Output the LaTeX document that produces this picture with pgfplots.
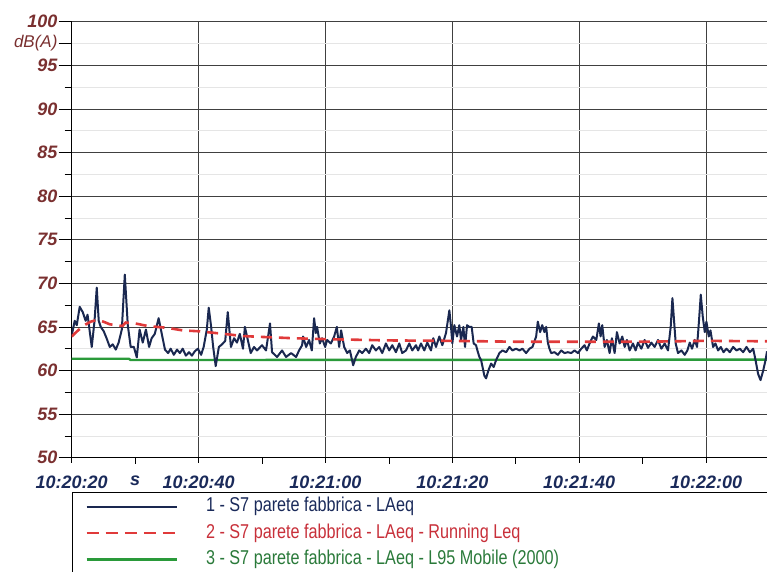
\documentclass[border=0pt]{standalone}
\usepackage{pgfplots}
\pgfplotsset{compat=1.18}
\usepackage{fontspec}
\setmainfont{Liberation Sans}
\newfontfamily\narrowfont[FakeStretch=0.81]{Liberation Sans}
\definecolor{navy}{HTML}{1A2850}
\definecolor{lred}{HTML}{E03A3A}
\definecolor{lgreen}{HTML}{2A9A3A}
\definecolor{ylab}{HTML}{7A3030}
\definecolor{xlab}{HTML}{1A2A5A}
\definecolor{redtxt}{HTML}{C8303A}
\definecolor{greentxt}{HTML}{2A7A3A}
\begin{document}
\begin{tikzpicture}
\begin{axis}[
  at={(0,0)}, anchor=south west,
  scale only axis, width=695.3pt, height=436pt,
  xmin=0, xmax=109.6, ymin=50, ymax=100,
  axis x line*=bottom, axis y line*=left,
  axis line style={black, line width=0.9pt},
  xtick={0,20,40,60,80,100},
  xticklabels={10:20:20,10:20:40,10:21:00,10:21:20,10:21:40,10:22:00},
  minor xtick={10,30,50,70,90},
  ytick={50,55,...,100},
  minor ytick={52.5,57.5,...,97.5},
  tick align=outside,
  major tick length=13pt, minor tick length=7pt,
  x tick style={/pgfplots/major tick length=5pt, /pgfplots/minor tick length=6pt, black, line width=0.8pt},
  y tick style={black, line width=0.8pt},
  xmajorgrids, ymajorgrids, yminorgrids,
  major grid style={draw=black!75, line width=0.8pt},
  minor grid style={draw=black!10, line width=0.6pt},
  /pgf/number format/assume math mode=true,
  yticklabel style={font=\bfseries\itshape\fontsize{18}{20}\selectfont, text=ylab, inner sep=1pt},
  xticklabel style={font=\bfseries\itshape\fontsize{18}{20}\selectfont, text=xlab, yshift=-2pt},
  extra y ticks={97.5}, extra y tick labels={dB(A)},
  extra y tick style={grid=none, yticklabel style={font=\itshape\fontsize{17}{20}\selectfont, text=ylab}},
  extra x ticks={10}, extra x tick labels={s},
  extra x tick style={grid=none},
  legend style={at={(0,0)}, anchor=north west, yshift=-34pt, draw=black, line width=0.9pt,
    fill=white, inner xsep=13.3pt, inner ysep=5pt, column sep=0pt, row sep=7.5pt,
    nodes={inner sep=0pt, text height=14.5pt, text depth=4.5pt, font=\narrowfont\fontsize{20}{22}\selectfont},
    /tikz/every odd column/.append style={column sep=28pt}},
  legend cell align=left,
  legend image code/.code={\draw[#1] (0pt,0pt) -- (90pt,0pt);},
]
\addlegendimage{navy, line width=1.8pt}
\addlegendentry{\makebox[560pt][l]{\textcolor{xlab}{1 - S7 parete fabbrica - LAeq}}}
\addlegendimage{lred, line width=2.6pt, dash pattern=on 12pt off 7pt}
\addlegendentry{\makebox[560pt][l]{\textcolor{redtxt}{2 - S7 parete fabbrica - LAeq - Running Leq}}}
\addlegendimage{lgreen, line width=2.6pt}
\addlegendentry{\makebox[560pt][l]{\textcolor{greentxt}{3 - S7 parete fabbrica - LAeq - L95 Mobile (2000)}}}

\addplot[forget plot, lgreen, line width=2.4pt] coordinates {
(0,61.35) (9.0,61.35) (9.3,61.2) (109.6,61.25)};

\addplot[forget plot, navy, line width=2pt, line join=round] coordinates {
(0,64.0) (0.47,65.7) (0.8,65.2) (1.26,67.3) (1.74,66.7) (2.2,65.7) (2.5,66.4) (3.16,62.7)
(3.6,65.7) (3.95,69.5) (4.26,65.7) (4.58,65.0) (5.05,64.5) (5.5,63.7) (6.0,62.7) (6.47,63.0)
(6.95,62.4) (7.4,63.2) (7.9,64.7) (8.37,71.0) (8.84,65.2) (9.3,62.7) (9.8,62.7) (10.26,61.5)
(10.7,64.7) (11.2,63.2) (11.7,64.7) (12.2,62.7) (12.6,63.7) (13.1,64.2) (13.7,66.0) (14.2,64.2)
(14.7,62.4) (15.2,62.0) (15.6,62.5) (16.1,61.8) (16.6,62.4) (17.05,62.0) (17.5,62.5) (18.0,61.7)
(18.5,62.1) (18.95,61.7) (19.4,62.2) (19.9,62.5) (20.4,61.8) (20.8,62.7) (21.3,64.7) (21.6,67.2)
(21.95,65.2) (22.3,62.7) (22.7,60.5) (23.2,62.7) (23.7,63.0) (24.2,63.4) (24.6,66.7) (25.1,62.7)
(25.6,63.7) (26.05,63.2) (26.5,64.2) (27.0,62.5) (27.3,65.0) (28.22,62.0) (28.74,62.7) (29.21,62.3)
(30.0,62.9) (30.63,62.3) (31.26,65.4) (31.58,62.1) (32.37,61.55) (33.16,62.3) (33.79,61.55) (34.58,62.0)
(35.37,61.55) (35.84,62.3) (36.32,62.9) (36.47,63.9) (36.95,62.7) (37.42,63.5) (37.85,62.3) (38.21,66.0)
(38.48,64.3) (38.68,65.0) (39.11,63.1) (39.47,63.7) (39.95,62.7) (40.26,63.5) (40.85,63.1) (41.37,63.9)
(41.79,65.0) (42.16,62.7) (42.47,64.6) (42.95,62.7) (43.42,62.0) (43.85,62.3) (44.37,60.6) (44.79,61.55)
(45.32,62.3) (45.79,62.0) (46.37,62.5) (46.89,62.0) (47.37,62.9) (47.95,62.3) (48.47,62.7) (48.95,62.0)
(49.53,63.1) (50.05,62.3) (50.53,62.9) (51.11,62.1) (51.63,63.1) (52.1,62.0) (52.69,62.3) (53.21,63.1)
(53.68,62.3) (54.27,62.9) (54.6,62.3) (55.06,63.1) (55.58,62.3) (56.05,63.2) (56.63,62.3) (57.0,63.7)
(57.42,62.7) (57.95,63.9) (58.42,62.9) (59.0,64.3) (59.53,66.9) (59.79,65.0) (60.0,63.1) (60.32,65.2)
(60.74,63.9) (61.1,65.2) (61.37,63.5) (61.74,65.0) (62.0,62.7) (62.32,65.2) (62.68,65.0) (63.05,65.0)
(63.36,63.1) (63.74,62.9) (63.95,62.3) (64.26,61.55) (64.53,61.2) (65.05,59.4) (65.32,59.1) (65.68,60.0)
(66.11,60.8) (66.52,60.4) (66.9,61.2) (67.42,62.0) (67.89,62.3) (68.48,62.1) (69.0,62.7) (69.47,62.3)
(70.05,62.5) (70.58,62.3) (71.05,62.5) (71.63,62.0) (72.16,62.5) (72.63,62.7) (73.21,63.9) (73.47,65.6)
(73.84,64.4) (74.16,65.2) (74.52,64.4) (74.79,65.0) (75.05,63.2) (75.31,62.5) (75.58,62.0) (76.1,62.1)
(76.63,61.8) (77.16,62.3) (77.68,62.0) (78.2,62.1) (78.74,62.0) (79.26,62.3) (79.79,62.0) (80.32,62.5)
(80.84,62.9) (81.2,62.3) (81.63,63.1) (82.15,63.9) (82.69,63.5) (83.1,65.4) (83.37,63.9) (83.63,65.2)
(84.0,62.7) (84.36,63.5) (84.79,62.0) (85.15,63.7) (85.58,62.0) (85.94,64.4) (86.37,63.1) (86.79,63.9)
(87.16,62.7) (87.52,63.5) (87.95,62.3) (88.47,63.1) (88.89,62.3) (89.26,63.2) (89.79,62.5) (90.31,63.5)
(90.84,62.6) (91.37,63.2) (91.89,62.7) (92.42,63.5) (92.95,62.5) (93.47,63.1) (93.99,62.3) (94.42,65.0)
(94.69,68.3) (94.94,65.8) (95.21,63.1) (95.57,62.0) (96.11,62.3) (96.63,61.8) (97.05,62.3) (97.42,63.2)
(97.78,62.5) (98.21,63.5) (98.57,62.7) (98.89,65.8) (99.16,68.7) (99.47,66.2) (99.79,64.4) (100.05,65.6)
(100.42,63.9) (100.69,64.6) (101.1,62.7) (101.47,63.1) (101.89,62.3) (102.32,62.7) (102.74,62.1) (103.21,62.5)
(103.74,62.1) (104.26,62.7) (104.79,62.3) (105.32,62.5) (105.84,62.1) (106.37,62.7) (106.89,62.1) (107.42,62.5)
(107.79,61.2) (108.2,59.6) (108.58,58.9) (109.0,60.0) (109.37,61.2) (109.6,62.2)};

\addplot[forget plot, lred, line width=2.6pt, dash pattern=on 11pt off 7pt] coordinates {
(0,63.9) (1,64.6) (2,65.2) (3,65.6) (4,65.8) (5,65.6) (6,65.3) (8,65.1) (8.5,65.5) (10,65.4)
(12,65.1) (15,64.9) (17.5,64.6) (20,64.5) (24,64.2) (27,63.95) (30,63.85) (35,63.7) (40,63.6)
(50,63.45) (60,63.4) (70,63.3) (80,63.3) (90,63.3) (100,63.4) (109.6,63.35)};
\end{axis}
\pgfresetboundingbox
\path[use as bounding box] (-71.7pt,-113.3pt) rectangle (695.3pt,457.7pt);
\end{tikzpicture}
\end{document}
